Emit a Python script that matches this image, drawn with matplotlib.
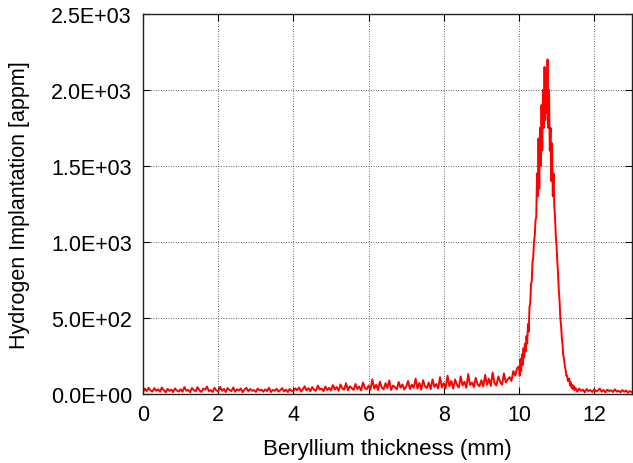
import numpy as np
import matplotlib
matplotlib.use("Agg")
import matplotlib.pyplot as plt
from matplotlib.ticker import FuncFormatter

plt.rcParams['font.family'] = ['Liberation Sans', 'DejaVu Sans']

# Baseline 0-10 mm, step 0.05 mm (appm)
base_vals = [
    12, 35, 18, 40, 22, 15, 38, 20, 30, 14, 42, 25, 10, 33, 19, 28, 12, 36, 21, 16,
    30, 14, 45, 20, 26, 11, 38, 24, 17, 44, 22, 13, 35, 27, 48, 18, 25, 12, 40, 23,
    15, 46, 20, 33, 12, 38, 26, 18, 42, 14, 30, 22, 36, 11, 28, 40, 17, 32, 20, 25,
    13, 35, 22, 28, 14, 30, 18, 40, 12, 26, 20, 34, 15, 24, 38, 16, 28, 12, 32, 20,
    18, 36, 24, 42, 15, 30, 50, 22, 38, 17, 45, 26, 20, 55, 28, 35, 18, 48, 25, 40,
    22, 58, 30, 45, 20, 62, 35, 28, 70, 24, 50, 38, 26, 65, 32, 48, 22, 75, 40, 30,
    55, 28, 95, 35, 60, 25, 80, 42, 30, 70, 38, 88, 26, 55, 45, 30, 78, 40, 62, 28,
    48, 85, 32, 60, 40, 100, 35, 72, 28, 90, 50, 38, 75, 30, 95, 45, 65, 35, 110, 42,
    70, 38, 120, 50, 85, 35, 95, 60, 42, 115, 55, 80, 40, 130, 58, 75, 45, 105, 62, 50,
    90, 48, 125, 60, 100, 52, 140, 70, 55, 115, 80, 60, 135, 75, 95, 110, 85, 150, 120, 170,
]
# Peak 10.00-11.48 mm, step 0.02 mm (appm)
peak_vals = [
    180, 120, 230, 150, 260, 190, 300, 240, 330, 280,
    380, 330, 460, 410, 570, 600, 720, 740, 870, 900,
    1000, 1040, 1140, 1160, 1450, 1300, 1680, 1350, 1750, 1500,
    1900, 1600, 2000, 1750, 2150, 1800, 2100, 1850, 2200, 1750,
    2000, 1600, 1750, 1400, 1650, 1300, 1450, 1240, 1160, 1040,
    970, 870, 790, 680, 610, 500, 450, 370, 320, 250,
    230, 180, 160, 120, 120, 85, 90, 100, 55, 75,
    40, 60, 30, 50, 25,
]
# Tail 11.50-13.00 mm, step 0.05 mm (appm)
tail_vals = [40, 15, 35, 20, 28, 10, 32, 18, 25, 12, 30, 16, 22, 35, 14, 26,
             10, 28, 18, 24, 12, 30, 15, 20, 10, 25, 14, 22, 8, 18, 12]

x_base = np.arange(len(base_vals)) * 0.05
x_peak = 10.0 + np.arange(len(peak_vals)) * 0.02
x_tail = 11.5 + np.arange(len(tail_vals)) * 0.05
x = np.concatenate([x_base, x_peak, x_tail])
y = np.concatenate([base_vals, peak_vals, tail_vals])

x_ticks = [0, 2, 4, 6, 8, 10, 12]
y_ticks = [0, 500, 1000, 1500, 2000, 2500]

fig = plt.figure(figsize=(6.33, 4.64), dpi=100)
ax = fig.add_axes([0.226, 0.149, 0.772, 0.819])
ax.plot(x, y, color='#ff0000', lw=1.4)

ax.set_xlim(0, 13)
ax.set_ylim(0, 2500)
ax.set_xticks(x_ticks)
ax.set_yticks(y_ticks)
ax.yaxis.set_major_formatter(FuncFormatter(lambda v, p: '{:.1E}'.format(v)))
ax.tick_params(direction='in', length=5, width=0.8, labelsize=15.5,
               top=True, right=True, colors='black')
ax.tick_params(axis='x', pad=7)
ax.tick_params(axis='y', pad=8)
ax.grid(True, color='#333333', linestyle=(0, (1, 2)), linewidth=0.6)
for s in ax.spines.values():
    s.set_linewidth(1.0)
    s.set_color('#222222')

ax.set_xlabel('Beryllium thickness (mm)', fontsize=16, labelpad=10)
ax.set_ylabel('Hydrogen Implantation [appm]', fontsize=15.5, labelpad=15)

fig.savefig('out.png', dpi=100)
